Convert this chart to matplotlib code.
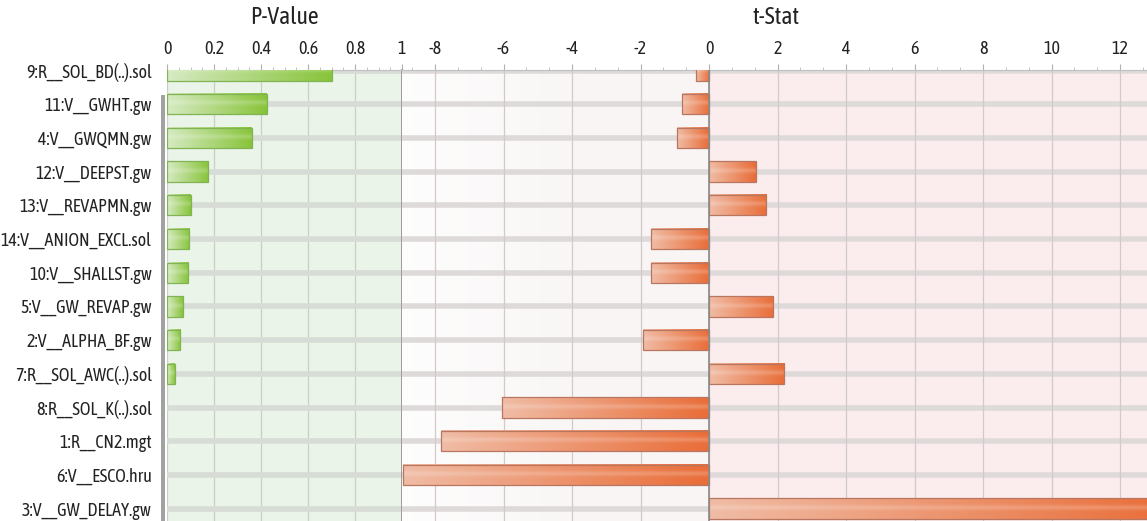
import numpy as np
import matplotlib
matplotlib.use("Agg")
import matplotlib.pyplot as plt
from matplotlib.patches import Rectangle
from matplotlib.ticker import MultipleLocator

# parameters, top to bottom as shown
params = ["9:R__SOL_BD(..).sol", "11:V__GWHT.gw", "4:V__GWQMN.gw", "12:V__DEEPST.gw",
          "13:V__REVAPMN.gw", "14:V__ANION_EXCL.sol", "10:V__SHALLST.gw", "5:V__GW_REVAP.gw",
          "2:V__ALPHA_BF.gw", "7:R__SOL_AWC(..).sol", "8:R__SOL_K(..).sol", "1:R__CN2.mgt",
          "6:V__ESCO.hru", "3:V__GW_DELAY.gw"]
p_values = [0.70, 0.424, 0.36, 0.176, 0.10, 0.094, 0.09, 0.068, 0.057, 0.033,
            0.0003, 0.0, 0.0, 0.0]
t_stats = [-0.39, -0.80, -0.93, 1.37, 1.67, -1.69, -1.69, 1.87, -1.93, 2.20,
           -6.05, -7.83, -8.94, 13.6]

plt.rcParams['font.family'] = ['Asap Condensed', 'Liberation Sans', 'DejaVu Sans']

W, H = 1147, 521
fig = plt.figure(figsize=(W / 100, H / 100), dpi=100)
fig.patch.set_facecolor('white')

top = 70
ax1 = fig.add_axes([167 / W, 0, 235 / W, (H - top) / H])
ax2 = fig.add_axes([402 / W, 0, (W - 402) / W, (H - top) / H])

row_px = 33.7
y = np.arange(len(params))
ylim = ((H - top - 0.5) / row_px, -0.5 / row_px)
bar_h = 0.6


def gradient_bar(ax, x0, x1, yc, c_light, c_dark, edge):
    if x1 - x0 == 0:
        return
    lo, hi = min(x0, x1), max(x0, x1)
    nx, ny = 120, 20
    t = np.linspace(0, 1, nx)[None, :, None]
    light = np.array(matplotlib.colors.to_rgb(c_light))[None, None, :]
    dark = np.array(matplotlib.colors.to_rgb(c_dark))[None, None, :]
    img = light * (1 - t) + dark * t
    # soft gloss stripe
    v = np.linspace(0, 1, ny)[:, None, None]
    gloss = 0.10 * np.exp(-((v - 0.45) / 0.12) ** 2)
    img = np.clip(img + gloss * (1 - img) * 2, 0, 1) * np.ones((ny, nx, 3))
    ax.imshow(img, extent=[lo, hi, yc + bar_h / 2, yc - bar_h / 2], aspect='auto',
              zorder=3, interpolation='bilinear')
    ax.add_patch(Rectangle((lo, yc - bar_h / 2), hi - lo, bar_h, facecolor='none',
                           edgecolor=edge, linewidth=0.9, zorder=4))


tick_kw = dict(length=4, color='#b0b0b0', labelsize=13, labelcolor='#222222', pad=5)

# ---- P-Value panel ----
ax1.set_facecolor('#eaf4e8')
for yi in y:
    ax1.axhline(yi, color='#d8dcd6', linewidth=4, zorder=1)
for yi, p in zip(y, p_values):
    if p > 0.001:
        gradient_bar(ax1, 0, p, yi, '#d6eac2', '#88c43a', '#80b452')
ax1.set_xlim(0, 1)
ax1.set_ylim(*ylim)
ax1.xaxis.tick_top()
ax1.set_xticks([0, 0.2, 0.4, 0.6, 0.8, 1.0])
ax1.set_xticklabels(['0', '0.2', '0.4', '0.6', '0.8', '1'])
ax1.xaxis.set_minor_locator(MultipleLocator(0.05))
ax1.grid(axis='x', color='#c8d0c6', linewidth=0.9, zorder=0)
ax1.set_axisbelow(True)
ax1.set_yticks(y)
ax1.set_yticklabels(params, fontsize=13, color='#222222')
ax1.tick_params(axis='y', length=5, color='#b0b0b0', pad=6)
ax1.tick_params(axis='x', which='major', **tick_kw)
ax1.tick_params(axis='x', which='minor', length=2, color='#b8b8b8')
for s in ['bottom', 'left']:
    ax1.spines[s].set_visible(False)
ax1.spines['top'].set_color('#c0c0c0')
ax1.spines['right'].set_color('#909090')
ax1.spines['right'].set_linewidth(1.2)

# ---- t-Stat panel ----
px_per_unit = 34.25
tmin = (402 - 709) / px_per_unit
tmax = tmin + (W - 402) / px_per_unit
ax2.axvspan(tmin, 0, color='#f8f5f4', zorder=0, linewidth=0)
ax2.axvspan(0, tmax, color='#fbeded', zorder=0, linewidth=0)
# faint white fade on the left of the negative side
alpha = np.linspace(0.85, 0, 100)[None, :, None] * np.ones((2, 100, 1))
ax2.imshow(np.dstack([np.ones((2, 100, 3)), alpha]),
           extent=[tmin, -3, ylim[0], ylim[1]], aspect='auto', zorder=0.5)
for yi in y:
    ax2.axhline(yi, color='#dfdada', linewidth=4, zorder=1)
for yi, t in zip(y, t_stats):
    gradient_bar(ax2, min(0, t), max(0, t), yi, '#f0bca5', '#e96d38', '#b87560')
ax2.axvline(0, color='#8a8a8a', linewidth=1.2, zorder=5)
ax2.set_xlim(tmin, tmax)
ax2.set_ylim(*ylim)
ax2.xaxis.tick_top()
ax2.set_xticks(np.arange(-8, 13, 2))
ax2.set_xticklabels([str(v) for v in range(-8, 13, 2)])
ax2.xaxis.set_minor_locator(MultipleLocator(2 / 3))
ax2.grid(axis='x', color='#d2caca', linewidth=0.9, zorder=0.8)
ax2.set_yticks([])
ax2.tick_params(axis='x', which='major', **tick_kw)
ax2.tick_params(axis='x', which='minor', length=2, color='#b8b8b8')
for s in ['bottom', 'left', 'right']:
    ax2.spines[s].set_visible(False)
ax2.spines['top'].set_color('#c0c0c0')

# titles
fig.text(284 / W, 1 - 18 / H, 'P-Value', ha='center', va='center', fontsize=17, color='#222222')
fig.text(776 / W, 1 - 18 / H, 't-Stat', ha='center', va='center', fontsize=17, color='#222222')

# scrollbar strip at the left of the chart
fig.patches.append(Rectangle((159 / W, 0), 8 / W, (H - top) / H, transform=fig.transFigure,
                             facecolor='white', edgecolor='none', zorder=5))
fig.patches.append(Rectangle((161 / W, 0), 4 / W, (H - 95) / H, transform=fig.transFigure,
                             facecolor='#a2a2a2', edgecolor='none', zorder=6))
fig.text(163 / W, 1 - 77 / H, '^', ha='center', va='center', fontsize=6, color='#999999')

fig.savefig('out.png', dpi=100)
